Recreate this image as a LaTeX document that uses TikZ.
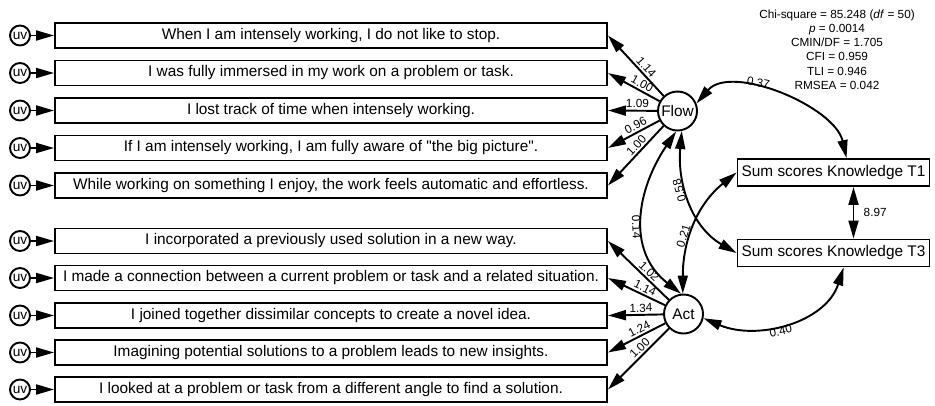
\documentclass[tikz,border=0pt]{standalone}
\usepackage{fontspec}
\setmainfont{Liberation Sans}
\usepackage{tikz}
\usetikzlibrary{arrows.meta,positioning}

\begin{document}
\begin{tikzpicture}[
  font=\fontsize{8.75pt}{10.5pt}\selectfont,
  item/.style={draw, line width=1.1pt, minimum width=11.04cm, minimum height=0.5cm, inner sep=0pt},
  latent/.style={draw, circle, line width=1.1pt, minimum size=0.78cm, inner sep=0pt},
  err/.style={draw, circle, line width=1.1pt, minimum size=0.4cm, inner sep=0pt, font=\fontsize{7.8pt}{8pt}\selectfont},
  score/.style={draw, line width=1.1pt, minimum width=3.84cm, minimum height=0.54cm, inner sep=0pt},
  load/.style={-{Triangle[length=0.36cm,width=0.2cm]}, line width=1.1pt},
  cov/.style={{Triangle[length=0.36cm,width=0.2cm]}-{Triangle[length=0.36cm,width=0.2cm]}, line width=1.1pt},
  coef/.style={font=\fontsize{6.7pt}{8pt}\selectfont, inner sep=1pt}
]
\useasboundingbox (0,0) rectangle (18.7,-8.1);

\node[item] (i1) at (6.62,-0.71) {When I am intensely working, I do not like to stop.};
\node[item] (i2) at (6.62,-1.46) {I was fully immersed in my work on a problem or task.};
\node[item] (i3) at (6.62,-2.21) {I lost track of time when intensely working.};
\node[item] (i4) at (6.62,-2.96) {If I am intensely working, I am fully aware of \textquotedbl the big picture\textquotedbl.};
\node[item] (i5) at (6.62,-3.71) {While working on something I enjoy, the work feels automatic and effortless.};

\node[item] (i6) at (6.62,-4.82) {I incorporated a previously used solution in a new way.};
\node[item] (i7) at (6.62,-5.56) {I made a connection between a current problem or task and a related situation.};
\node[item] (i8) at (6.62,-6.31) {I joined together dissimilar concepts to create a novel idea.};
\node[item] (i9) at (6.62,-7.05) {Imagining potential solutions to a problem leads to new insights.};
\node[item] (i10) at (6.62,-7.79) {I looked at a problem or task from a different angle to find a solution.};

\node[err] (u1) at (0.40,-0.71) {uv};
\node[err] (u2) at (0.40,-1.46) {uv};
\node[err] (u3) at (0.40,-2.21) {uv};
\node[err] (u4) at (0.40,-2.96) {uv};
\node[err] (u5) at (0.40,-3.71) {uv};
\node[err] (u6) at (0.40,-4.82) {uv};
\node[err] (u7) at (0.40,-5.56) {uv};
\node[err] (u8) at (0.40,-6.31) {uv};
\node[err] (u9) at (0.40,-7.05) {uv};
\node[err] (u10) at (0.40,-7.79) {uv};
\draw[load] (u1) -- (i1.west);
\draw[load] (u2) -- (i2.west);
\draw[load] (u3) -- (i3.west);
\draw[load] (u4) -- (i4.west);
\draw[load] (u5) -- (i5.west);
\draw[load] (u6) -- (i6.west);
\draw[load] (u7) -- (i7.west);
\draw[load] (u8) -- (i8.west);
\draw[load] (u9) -- (i9.west);
\draw[load] (u10) -- (i10.west);

\node[latent] (flow) at (13.55,-2.22) {Flow};
\node[latent] (act) at (13.67,-6.28) {Act};

\draw[load] (flow) -- node[coef,pos=0.4,above,sloped]{1.14} (i1.east);
\draw[load] (flow) -- node[coef,pos=0.4,above,sloped]{1.00} (i2.east);
\draw[load] (flow) -- node[coef,pos=0.4,above,sloped]{1.09} (i3.east);
\draw[load] (flow) -- node[coef,pos=0.4,above,sloped]{0.96} (i4.east);
\draw[load] (flow) -- node[coef,pos=0.4,above,sloped]{1.00} (i5.east);

\draw[load] (act) -- node[coef,pos=0.4,above,sloped]{1.02} (i6.east);
\draw[load] (act) -- node[coef,pos=0.4,above,sloped]{1.14} (i7.east);
\draw[load] (act) -- node[coef,pos=0.4,above,sloped]{1.34} (i8.east);
\draw[load] (act) -- node[coef,pos=0.4,above,sloped]{1.24} (i9.east);
\draw[load] (act) -- node[coef,pos=0.4,above,sloped]{1.00} (i10.east);

\node[score] (t1) at (16.67,-3.45) {Sum scores Knowledge T1};
\node[score] (t3) at (16.67,-5.06) {Sum scores Knowledge T3};

\draw[cov] (flow.22) to[out=49,in=103,looseness=0.85] node[coef,pos=0.38,above,sloped]{0.37} (t1.48);
\draw[cov] (flow.-94) to[out=-124,in=142,looseness=1.1] node[coef,pos=0.55,below,sloped]{0.14} (act.97);
\draw[cov] (t3.west) to[out=150,in=-95] node[coef,pos=0.6,above,sloped,allow upside down]{0.58} (flow.-78);
\draw[cov] (act.92) to[out=90,in=219] node[coef,pos=0.4,above,sloped]{0.21} (t1.west);
\draw[cov] (act.-12) to[out=-23,in=252] node[coef,pos=0.45,below,sloped]{0.40} (t3.-55);
\draw[cov] ([xshift=0.4cm]t1.south) -- node[coef,right,xshift=0.15cm]{8.97} ([xshift=0.4cm]t3.north);

\node[align=center, font=\fontsize{6.7pt}{8.1pt}\selectfont] (gof) at (16.74,-0.99) {Chi-square = 85.248 (\textit{df} = 50)\\\textit{p} = 0.0014\\CMIN/DF = 1.705\\CFI = 0.959\\TLI = 0.946\\RMSEA = 0.042};
\end{tikzpicture}
\end{document}
